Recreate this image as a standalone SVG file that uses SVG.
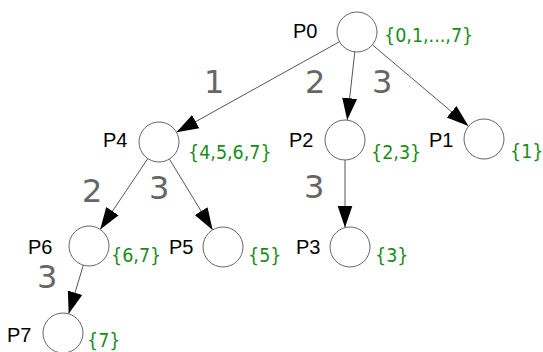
<svg xmlns="http://www.w3.org/2000/svg" width="543" height="352" viewBox="0 0 543 352">
<style>
.n{fill:#fff;stroke:#666;stroke-width:1}
.l{font-family:"Liberation Sans",Arial,sans-serif;font-size:20px;fill:#000}
.s{font-family:"DejaVu Sans Condensed","DejaVu Sans",sans-serif;font-size:19.5px;fill:#1a8c1a}
.e{font-family:"DejaVu Sans",sans-serif;font-size:32px;fill:#666}
.c{stroke:#555;stroke-width:1;fill:none;marker-end:url(#a)}
</style>
<defs>
<marker id="a" markerUnits="userSpaceOnUse" markerWidth="24" markerHeight="18" refX="22" refY="8" orient="auto">
<path d="M0,0.5 L22,8 L0,15.5 Z" fill="#000"/>
</marker>
</defs>
<rect width="543" height="352" fill="#fff"/>
<g id="connectors">
<line class="c" x1="339.5" y1="41.7" x2="176.5" y2="132.3"/>
<line class="c" x1="354.8" y1="51.9" x2="347.2" y2="120.1"/>
<line class="c" x1="372.4" y1="44.8" x2="468.4" y2="126"/>
<line class="c" x1="147.8" y1="158.6" x2="100.2" y2="229.4"/>
<line class="c" x1="169.4" y1="159.1" x2="212.6" y2="229.9"/>
<line class="c" x1="345" y1="160" x2="345" y2="227.5"/>
<line class="c" x1="83.3" y1="265.2" x2="68.7" y2="313.8"/>
<text class="e" x="204" y="93">1</text>
<text class="e" x="305" y="93">2</text>
<text class="e" x="372" y="93">3</text>
<text class="e" x="82" y="202">2</text>
<text class="e" x="149" y="199">3</text>
<text class="e" x="304" y="198">3</text>
<text class="e" x="37" y="288">3</text>
</g>
<g id="P0"><circle class="n" cx="357" cy="32" r="20"/><text class="l" x="293" y="38">P0</text><text class="s" x="384" y="42">{0,1,...,7}</text></g>
<g id="P4"><circle class="n" cx="159" cy="142" r="20"/><text class="l" x="103" y="147">P4</text><text class="s" x="188" y="159">{4,5,6,7}</text></g>
<g id="P2"><circle class="n" cx="345" cy="140" r="20"/><text class="l" x="289" y="147">P2</text><text class="s" x="371" y="159">{2,3}</text></g>
<g id="P1"><circle class="n" cx="484" cy="139" r="20"/><text class="l" x="429" y="147">P1</text><text class="s" x="510" y="158">{1}</text></g>
<g id="P6"><circle class="n" cx="89" cy="246" r="20"/><text class="l" x="28" y="254">P6</text><text class="s" x="111" y="262">{6,7}</text></g>
<g id="P5"><circle class="n" cx="223" cy="247" r="20"/><text class="l" x="169" y="254">P5</text><text class="s" x="248" y="262">{5}</text></g>
<g id="P3"><circle class="n" cx="350" cy="247" r="20"/><text class="l" x="296" y="254">P3</text><text class="s" x="375" y="262">{3}</text></g>
<g id="P7"><circle class="n" cx="63" cy="333" r="20"/><text class="l" x="7" y="342">P7</text><text class="s" x="87" y="347">{7}</text></g>
</svg>
